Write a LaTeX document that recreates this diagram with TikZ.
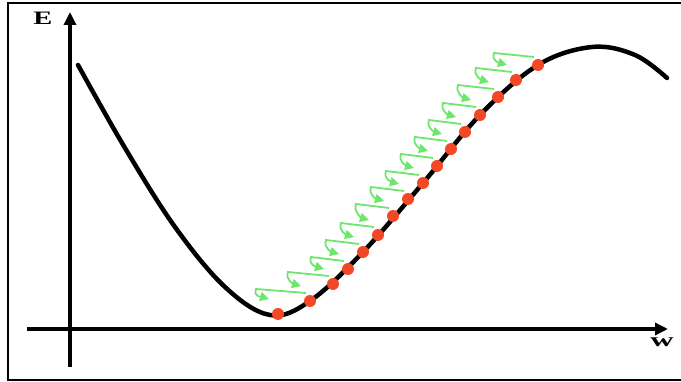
\documentclass[tikz,border=0pt]{standalone}
\usepackage{fontspec}
\usepackage{graphicx}
\setmainfont{Liberation Serif}
\usetikzlibrary{arrows.meta,calc}
\definecolor{gr}{RGB}{110,230,110}
\definecolor{dotred}{RGB}{242,72,38}
\begin{document}
\begin{tikzpicture}[x=1pt,y=-1pt,
 axis/.style={line width=4.5pt,-{Triangle[length=13pt,width=12pt]}},
 curvestyle/.style={line width=4.5pt,line cap=round},
 dotnode/.style={circle,fill=dotred,inner sep=0pt,minimum size=12pt},
 garrow/.style={draw=gr,line width=1.8pt,-{Triangle[length=9pt,width=9pt]}},
 lbl/.style={font=\bfseries\fontsize{19}{19}\selectfont,inner sep=0pt}]
\useasboundingbox (0,0) rectangle (681,382);
\draw[line width=1.6pt] (682,3) -- (8,3) -- (8,380) -- (682,380);
% axes
\coordinate (yb) at (70,367);
\coordinate (yt) at (70,12);
\coordinate (xl) at (27,329);
\coordinate (xr) at (668,329);
\draw[axis] (yb) -- (yt);
\draw[axis] (xl) -- (xr);
\node[lbl] (E) at (43,18) {\scalebox{1.5}[1]{E}};
\node[lbl] (W) at (662,342) {\scalebox{1.7}[1]{w}};
% curve
\draw[curvestyle] plot[smooth,tension=0.6] coordinates {(78,65) (125,148) (175,227) (225,287) (270,315) (310,301) (363,252) (423,183) (480,115) (538,65) (592,47) (635,55) (667,78)};
% dots
\foreach \n/\p in {1/{278,314},2/{310,301},3/{333,284},4/{348,269},5/{363,252},6/{378,235},7/{393,216},8/{408,199},9/{423,183},10/{437,166},11/{451,149},12/{465,132},13/{480,115},14/{498,97},15/{516,80},16/{538,65}}
  \node[dotnode] (d\n) at (\p) {};
% green arrows
\foreach \i/\j in {1/2,2/3,3/4,4/5,5/6,6/7,7/8,8/9,9/10,10/11,11/12,12/13,13/14,14/15,15/16}
  \draw[garrow] ($(d\j)+(-4,-8)$) -- ($(d\i |- d\j)+(-22,-12)$) .. controls +(-3,8) and +(-7,-2) .. ($(d\i)+(-9,-15)$);
\end{tikzpicture}
\end{document}
